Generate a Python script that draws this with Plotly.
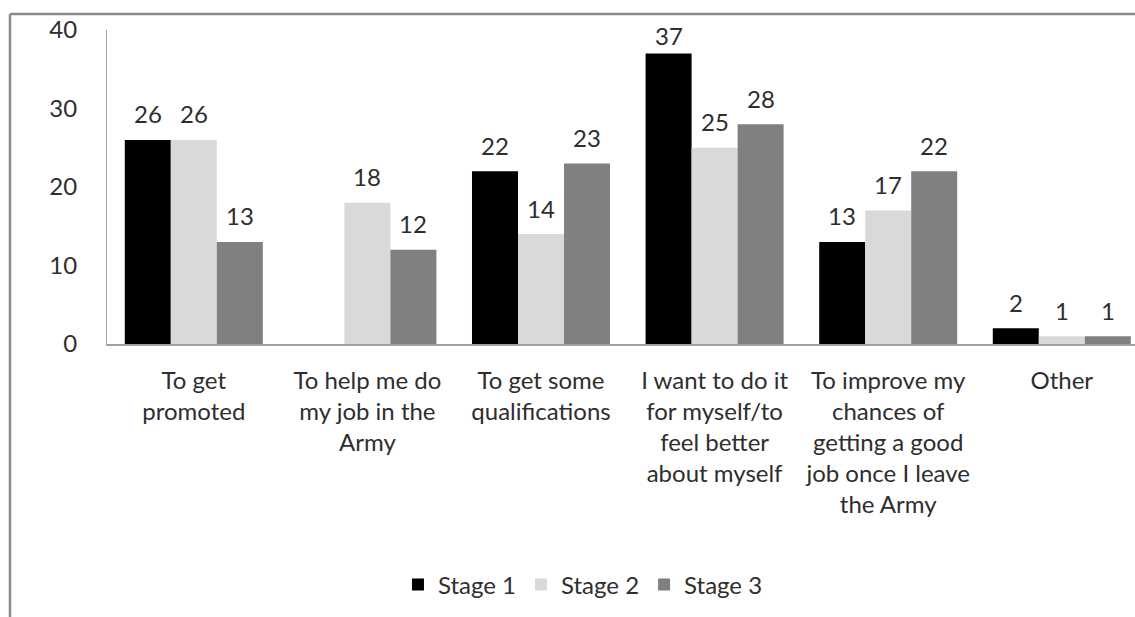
import plotly.graph_objects as go

# Reasons for taking part, split over several lines for the axis labels
categories = [
    "To get<br>promoted",
    "To help me do<br>my job in the<br>Army",
    "To get some<br>qualifications",
    "I want to do it<br>for myself/to<br>feel better<br>about myself",
    "To improve my<br>chances of<br>getting a good<br>job once I leave<br>the Army",
    "Other",
]
stage1 = [26, None, 22, 37, 13, 2]
stage2 = [26, 18, 14, 25, 17, 1]
stage3 = [13, 12, 23, 28, 22, 1]
series_names = ["Stage 1", "Stage 2", "Stage 3"]
y_ticks = [0, 10, 20, 30, 40]

colors = ["#000000", "#d9d9d9", "#808080"]
font_family = "Lato"
text_color = "#2e2e2e"

W, H = 1135, 617
M_L, M_R, M_T, M_B = 107, 0, 30, 273
BAR_PX = 46          # width of one bar in pixels
LABEL_SHIFT = 26     # distance of value labels above bar tops
LABEL_TOP_PX = 36    # value labels never rise above this page row

fig = go.Figure()
for name, vals, col in zip(series_names, [stage1, stage2, stage3], colors):
    fig.add_trace(go.Bar(
        x=categories, y=vals, name=name,
        marker=dict(color=col, line=dict(width=0)),
    ))

plot_w = W - M_L - M_R
plot_h = H - M_T - M_B
px_per_unit = plot_h / (y_ticks[-1] - y_ticks[0])

# value labels above each bar, kept inside the chart frame
for i, vals in enumerate([stage1, stage2, stage3]):
    for cat, v in zip(categories, vals):
        if v is None:
            continue
        bar_top_px = H - M_B - v * px_per_unit
        shift = min(LABEL_SHIFT, bar_top_px - LABEL_TOP_PX)
        fig.add_annotation(
            x=cat, y=v, xref="x", yref="y", text=str(v), showarrow=False,
            xanchor="center", yanchor="middle",
            xshift=(i - 1) * BAR_PX, yshift=shift,
            font=dict(family=font_family, size=24, color=text_color),
        )

# outer chart frame (left and top edges)
def px_x(p):
    return (p - M_L) / plot_w
def px_y(p):
    return (H - M_B - p) / plot_h
frame = dict(color="#8a8a8a", width=2.5)
fig.add_shape(type="line", xref="paper", yref="paper",
              x0=px_x(10), x1=px_x(W + 5), y0=px_y(14), y1=px_y(14), line=frame)
fig.add_shape(type="line", xref="paper", yref="paper",
              x0=px_x(10), x1=px_x(10), y0=px_y(14), y1=px_y(H + 5), line=frame)

fig.update_layout(
    width=W, height=H,
    margin=dict(l=M_L, r=M_R, t=M_T, b=M_B),
    paper_bgcolor="white", plot_bgcolor="white",
    barmode="group", bargap=0.205, bargroupgap=0,
    font=dict(family=font_family, size=24, color=text_color),
    showlegend=True,
    legend=dict(orientation="h", x=0.463, xanchor="center", y=-0.767, yanchor="middle",
                font=dict(family=font_family, size=24, color=text_color),
                itemwidth=30, tracegroupgap=0),
    xaxis=dict(
        range=[-0.5, -0.5 + plot_w / 173.6],
        showgrid=False, zeroline=False,
        showline=True, linecolor="#a0a0a0", linewidth=1.5,
        ticks="", ticklabelstandoff=14,
        tickfont=dict(family=font_family, size=24, color=text_color),
    ),
    yaxis=dict(
        range=[0, 40], tickvals=y_ticks, showgrid=False, zeroline=False,
        showline=True, linecolor="#a0a0a0", linewidth=1,
        ticks="", ticklabelstandoff=24,
        tickfont=dict(family=font_family, size=24, color=text_color),
    ),
)

fig.write_html("out.html")
